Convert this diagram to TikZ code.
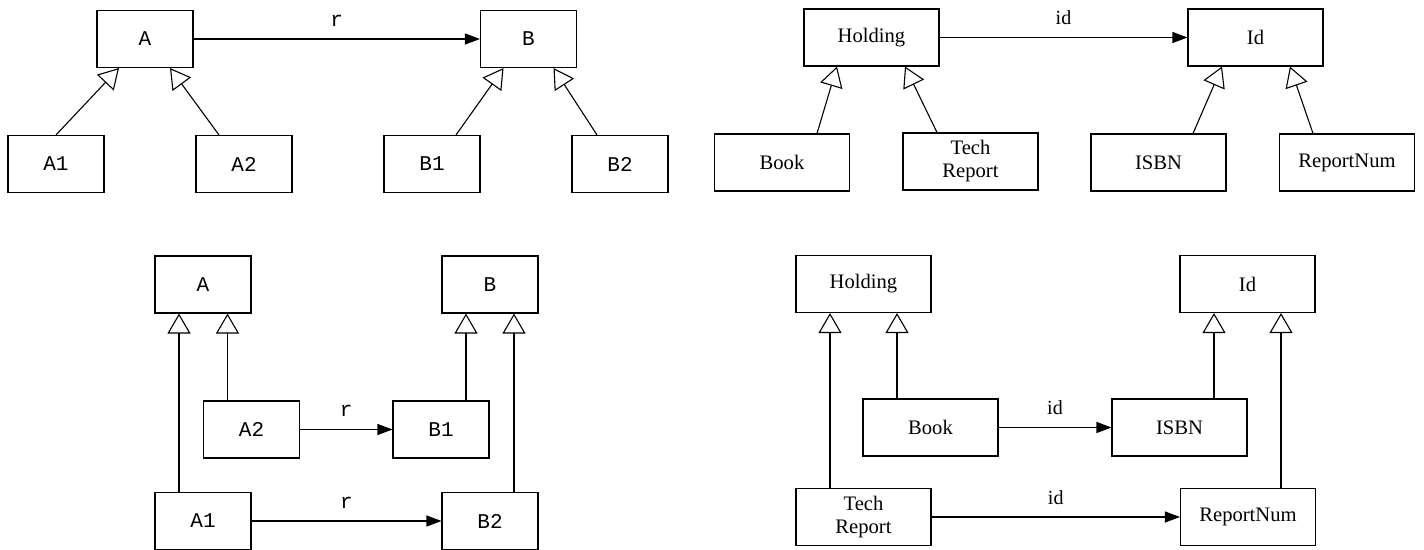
\documentclass[tikz,border=0pt]{standalone}
\usepackage{fontspec}
\setmainfont{Liberation Serif}
\newfontfamily\clsmono{Liberation Mono}
\usetikzlibrary{arrows.meta}

\begin{document}
\begin{tikzpicture}[x=0.5pt,y=-0.5pt,
    c/.style={draw,line width=0.55pt,inner sep=0pt,minimum width=48pt,minimum height=28.5pt,font=\clsmono\fontsize{10.5}{12}\selectfont},
    w/.style={draw,line width=0.55pt,inner sep=0pt,minimum width=67.5pt,minimum height=28.5pt,align=center,font=\fontsize{10.3}{11.5}\selectfont},
    g/.style={-{Triangle[open,length=10pt,width=11.5pt]},line width=0.55pt},
    a/.style={-{Triangle[length=7.5pt,width=5.5pt]},line width=0.55pt},
    l/.style={midway,above=5pt,inner sep=1pt}]
  \useasboundingbox (0,0) rectangle (1424,550);
  % top left
  \node[c] (ta) at (145,39) {A};
  \node[c] (tb) at (528.5,39) {B};
  \node[c] (ta1) at (56,164) {A1};
  \node[c] (ta2) at (244,164) {A2};
  \node[c] (tb1) at (432,164) {B1};
  \node[c] (tb2) at (620,164) {B2};
  \draw[a] (ta) -- node[l,font=\clsmono\fontsize{10.5}{12}\selectfont] {r} (tb);
  \draw[g] (ta1.north) -- ([xshift=-13pt]ta.south);
  \draw[g] ([xshift=-12.5pt]ta2.north) -- ([xshift=12.5pt]ta.south);
  \draw[g] ([xshift=12pt]tb1.north) -- ([xshift=-12.5pt]tb.south);
  \draw[g] ([xshift=-11.5pt]tb2.north) -- ([xshift=12.5pt]tb.south);
  % top right
  \node[w] (th) at (871.5,37.5) {Holding};
  \node[w] (ti) at (1255.5,37.5) {Id};
  \node[w] (tbk) at (782,162.5) {Book};
  \node[w] (ttr) at (970.5,161.5) {Tech\\Report};
  \node[w] (tis) at (1158.5,162.5) {ISBN};
  \node[w] (trn) at (1347,162.5) {ReportNum};
  \draw[a] (th) -- node[l] {id} (ti);
  \draw[g] ([xshift=17.5pt]tbk.north) -- ([xshift=-17.25pt]th.south);
  \draw[g] ([xshift=-16.75pt]ttr.north) -- ([xshift=16.75pt]th.south);
  \draw[g] ([xshift=17.25pt]tis.north) -- ([xshift=-16.75pt]ti.south);
  \draw[g] ([xshift=-17pt]trn.north) -- ([xshift=17.25pt]ti.south);
  % bottom left
  \node[c] (ba) at (203,284.5) {A};
  \node[c] (bb) at (490,284.5) {B};
  \node[c] (ba2) at (251.5,429.5) {A2};
  \node[c] (bb1) at (441,429.5) {B1};
  \node[c] (ba1) at (203,521) {A1};
  \node[c] (bb2) at (490,521) {B2};
  \draw[a] (ba2) -- node[l,font=\clsmono\fontsize{10.5}{12}\selectfont] {r} (bb1);
  \draw[a] (ba1) -- node[l,font=\clsmono\fontsize{10.5}{12}\selectfont] {r} (bb2);
  \draw[g] ([xshift=-12pt]ba1.north) -- ([xshift=-12pt]ba.south);
  \draw[g] ([xshift=-12pt]ba2.north) -- ([xshift=12.25pt]ba.south);
  \draw[g] ([xshift=12.5pt]bb1.north) -- ([xshift=-12pt]bb.south);
  \draw[g] ([xshift=12pt]bb2.north) -- ([xshift=12pt]bb.south);
  % bottom right
  \node[w] (bh) at (863.5,284) {Holding};
  \node[w] (bi) at (1247.5,284) {Id};
  \node[w] (bbk) at (930.5,427.5) {Book};
  \node[w] (bis) at (1179.5,427.5) {ISBN};
  \node[w] (btr) at (863.5,517) {Tech\\Report};
  \node[w] (brn) at (1248,517) {ReportNum};
  \draw[a] (bbk) -- node[l] {id} (bis);
  \draw[a] (btr) -- node[l] {id} (brn);
  \draw[g] ([xshift=-16.75pt]btr.north) -- ([xshift=-16.75pt]bh.south);
  \draw[g] ([xshift=-16.75pt]bbk.north) -- ([xshift=16.75pt]bh.south);
  \draw[g] ([xshift=17.25pt]bis.north) -- ([xshift=-16.75pt]bi.south);
  \draw[g] ([xshift=16.5pt]brn.north) -- ([xshift=16.75pt]bi.south);
\end{tikzpicture}
\end{document}
